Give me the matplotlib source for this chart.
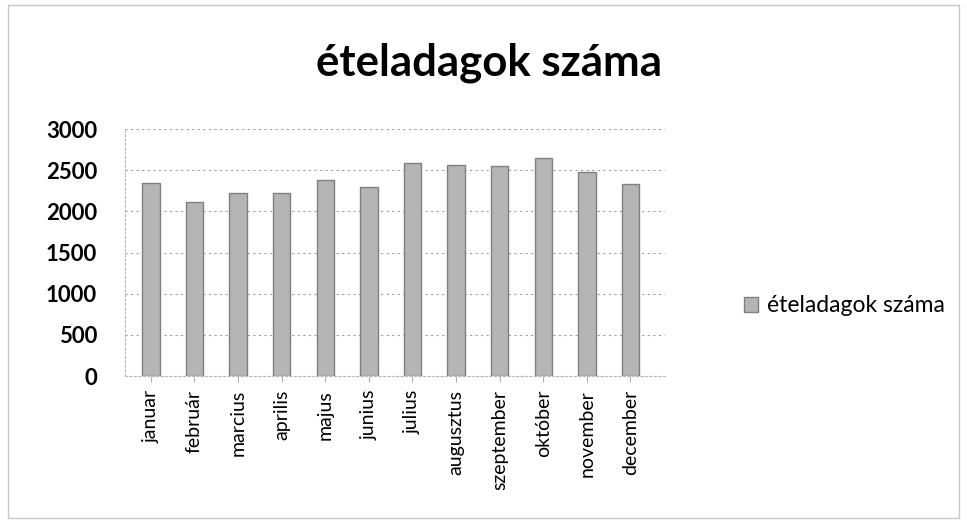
import matplotlib.pyplot as plt
from matplotlib.patches import Rectangle

months = ['januar', 'február', 'marcius', 'aprilis', 'majus', 'junius', 'julius',
          'augusztus', 'szeptember', 'október', 'november', 'december']
values = [2340, 2120, 2230, 2220, 2380, 2300, 2590, 2570, 2550, 2650, 2480, 2330]
yticks = [0, 500, 1000, 1500, 2000, 2500, 3000]
series_name = 'ételadagok száma'

plt.rcParams['font.family'] = ['Lato', 'DejaVu Sans']

fig = plt.figure(figsize=(9.67, 5.23), dpi=100)
fig.patches.append(Rectangle((0.008, 0.01), 0.984, 0.98, transform=fig.transFigure,
                             fill=False, edgecolor='#c8c8c8', linewidth=1))

ax = fig.add_axes([0.129, 0.281, 0.559, 0.472])
x = list(range(len(months)))
ax.bar(x, values, width=0.4, color='#b5b5b5', edgecolor='#808080', linewidth=1,
       label=series_name, zorder=3)

ax.set_ylim(0, 3000)
ax.set_xlim(-0.6, 11.8)
ax.set_yticks(yticks)
ax.set_yticklabels([str(v) for v in yticks], fontsize=16, fontweight='bold')
ax.set_xticks(x)
ax.set_xticklabels(months, rotation=90, fontsize=14)
ax.tick_params(axis='y', length=0, pad=20)
ax.tick_params(axis='x', length=4, color='#b0b0b0', pad=6)
ax.grid(axis='y', linestyle=(0, (2, 3)), color='#a0a0a0', linewidth=0.8, zorder=0)
for side in ['top', 'right']:
    ax.spines[side].set_visible(False)
for side in ['left', 'bottom']:
    ax.spines[side].set_color('#b8b8b8')
    ax.spines[side].set_linestyle((0, (2, 2)))

fig.text(0.506, 0.88, series_name, ha='center', va='center', fontsize=31.5, fontweight='bold')
fig.legend(loc='center left', bbox_to_anchor=(0.748, 0.415), frameon=False, fontsize=16.5,
           handlelength=0.6, handleheight=0.6, handletextpad=0.4)

fig.savefig('out.png', dpi=100)
